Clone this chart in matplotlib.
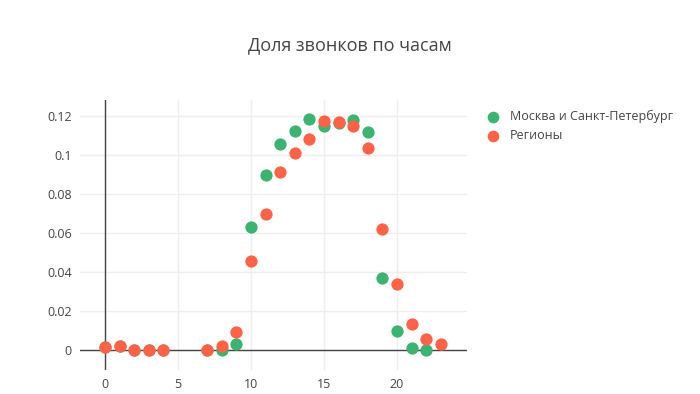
import numpy as np
import matplotlib
matplotlib.use("Agg")
import matplotlib.pyplot as plt

plt.rcParams['font.family'] = ['Open Sans', 'DejaVu Sans']

# hours and call shares
hours_msk = [0, 1, 2, 3, 4, 7, 8, 9, 10, 11, 12, 13, 14, 15, 16, 17, 18, 19, 20, 21, 22]
share_msk = [0.0015, 0.0019, 0.0, 0.0002, 0.0002, 0.0, 0.0, 0.0029, 0.0632, 0.0896, 0.1056,
             0.1123, 0.1183, 0.1149, 0.1162, 0.1179, 0.1115, 0.0366, 0.0096, 0.0012, 0.0]

hours_reg = [0, 1, 2, 3, 4, 7, 8, 9, 10, 11, 12, 13, 14, 15, 16, 17, 18, 19, 20, 21, 22, 23]
share_reg = [0.0015, 0.0019, 0.0002, 0.0002, 0.0002, 0.0, 0.0019, 0.0091, 0.0455, 0.0694, 0.0913,
             0.1009, 0.1080, 0.1173, 0.1169, 0.1149, 0.1034, 0.0617, 0.0337, 0.0133, 0.0058, 0.0031]

labels = ["Москва и Санкт-Петербург", "Регионы"]
colors = ["#3cb371", "#ff6347"]
title = "Доля звонков по часам"

W, H = 700, 394
fig = plt.figure(figsize=(W / 100, H / 100), dpi=100)
# plot area in pixels: left 80, right 467, top 100, bottom 370
ax = fig.add_axes([80 / W, 1 - 370 / H, (467 - 80) / W, (370 - 100) / H])

ax.scatter(hours_msk, share_msk, s=78, color=colors[0], label=labels[0], zorder=3, linewidths=0)
ax.scatter(hours_reg, share_reg, s=78, color=colors[1], label=labels[1], zorder=4, linewidths=0)

ax.set_xlim(-1.71, 24.8)
ax.set_ylim(-0.0103, 0.128)

ax.set_xticks([0, 5, 10, 15, 20])
ax.set_yticks([0, 0.02, 0.04, 0.06, 0.08, 0.1, 0.12])
ax.set_yticklabels(["0", "0.02", "0.04", "0.06", "0.08", "0.1", "0.12"])
ax.tick_params(length=0, labelsize=9, colors="#444444", pad=6)

ax.grid(True, color="#eeeeee", linewidth=1)
ax.set_axisbelow(True)
for s in ax.spines.values():
    s.set_visible(False)
ax.axhline(0, color="#444444", linewidth=1, zorder=2)
ax.axvline(0, color="#444444", linewidth=1, zorder=2)

fig.text(350 / W, 1 - 45 / H, title, ha="center", va="center", fontsize=13, color="#444444")

fig.legend(loc="upper left", bbox_to_anchor=(478 / W, 1 - 105 / H), frameon=False,
           fontsize=9, labelcolor="#444444", handletextpad=0.55, labelspacing=0.45,
           markerscale=0.95, handlelength=1.6, borderaxespad=0)

fig.savefig("out.png", dpi=100)
